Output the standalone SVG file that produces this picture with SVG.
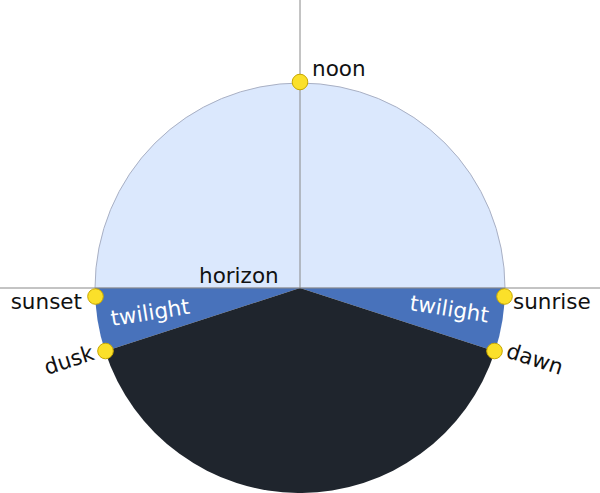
<svg xmlns="http://www.w3.org/2000/svg" width="600" height="493" viewBox="0 0 600 493">
<style>
text{font-family:"DejaVu Sans","Liberation Sans",sans-serif;font-size:21.5px;fill:#111}
.tw{fill:#fff}
.dot{fill:#fbe02a;stroke:#c9a800;stroke-width:1}
.ax{stroke:#888;stroke-width:1;fill:none}
</style>
<rect width="600" height="493" fill="#fff"/>
<g id="day"><path d="M95,288 A205,205 0 0 1 505,288 Z" fill="#dbe8fd" stroke="#a9b0c4" stroke-width="1"/></g>
<g id="twilight-left"><path d="M300,288 L95,288 A205,205 0 0 0 105.03,351.35 Z" fill="#4872bb"/></g>
<g id="twilight-right"><path d="M300,288 L505,288 A205,205 0 0 1 494.97,351.35 Z" fill="#4872bb"/></g>
<g id="night"><path d="M300,288 L105.03,351.35 A205,205 0 0 0 494.97,351.35 Z" fill="#1f252d"/></g>
<g id="connectors">
<line class="ax" x1="0" y1="288" x2="600" y2="288"/>
<line class="ax" x1="300" y1="0" x2="300" y2="288"/>
</g>
<g id="horizon"><text x="199" y="283">horizon</text></g>
<g id="tw-left-label"><text class="tw" x="112" y="326" transform="rotate(-9 112 326)">twilight</text></g>
<g id="tw-right-label"><text class="tw" x="409" y="310" transform="rotate(9 409 310)">twilight</text></g>
<g id="noon"><circle class="dot" cx="300" cy="82" r="7.8"/><text x="312" y="76">noon</text></g>
<g id="sunset"><circle class="dot" cx="95.5" cy="296.5" r="7.8"/><text x="82" y="309" text-anchor="end">sunset</text></g>
<g id="sunrise"><circle class="dot" cx="504.5" cy="296.5" r="7.8"/><text x="513" y="309">sunrise</text></g>
<g id="dusk"><circle class="dot" cx="105.5" cy="351" r="7.8"/><text x="47" y="375" transform="rotate(-18 47 375)">dusk</text></g>
<g id="dawn"><circle class="dot" cx="494.5" cy="351" r="7.8"/><text x="505" y="357" transform="rotate(18 505 357)">dawn</text></g>
</svg>
